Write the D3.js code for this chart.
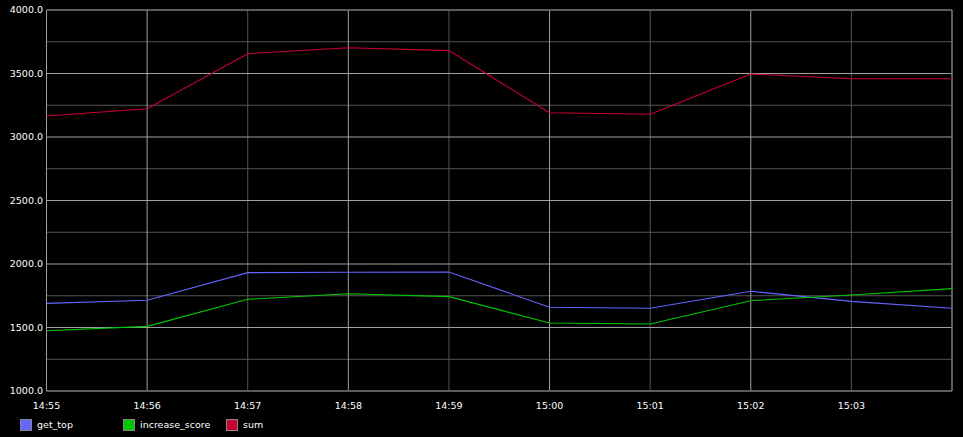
<!DOCTYPE html>
<html><head><meta charset="utf-8">
<script src="https://cdn.jsdelivr.net/npm/d3@7"></script>
<style>html,body{margin:0;padding:0;background:#000;}svg{display:block;}</style>
</head><body>
<svg id="chart" width="963" height="437"></svg>
<script>
const times = ["14:55","14:56","14:57","14:58","14:59","15:00","15:01","15:02","15:03","15:04"];
const getTop = [1690,1714,1932,1935,1937,1659,1651,1785,1706,1651];
const increaseScore = [1475,1509,1722,1766,1743,1535,1528,1711,1756,1806];
const sumVals = [3165,3223,3656,3703,3680,3191,3179,3496,3459,3459];
const seriesNames = ["get_top","increase_score","sum"];
const seriesColors = ["#6464ff","#00c800","#c80032"];
const yTicks = [1000,1500,2000,2500,3000,3500,4000];
const yMinor = [1250,1750,2250,2750,3250,3750];
const xTickLabels = ["14:55","14:56","14:57","14:58","14:59","15:00","15:01","15:02","15:03"];
const xMajor = ["14:56","14:58","15:00","15:02"];

const parse = d3.timeParse("%H:%M");
const dates = times.map(parse);
const svg = d3.select("#chart");
const W = 963, H = 437;
svg.append("rect").attr("width", W).attr("height", H).attr("fill", "#000");

const L = 46.5, R = 952, T = 10, B = 391;
const x = d3.scaleTime().domain([dates[0], dates[dates.length-1]]).range([L, R]);
const y = d3.scaleLinear().domain([1000, 4000]).range([B, T]);

const g = svg.append("g");
// minor horizontal grid
g.selectAll(".hmin").data(yMinor).join("line")
  .attr("x1", L).attr("x2", R).attr("y1", d => y(d)).attr("y2", d => y(d))
  .attr("stroke", "#555").attr("stroke-width", 1);
// minor vertical grid
const xMinor = xTickLabels.filter(t => !xMajor.includes(t)).concat(["15:04"]);
g.selectAll(".vmin").data(xMinor.map(parse)).join("line")
  .attr("x1", d => x(d)).attr("x2", d => x(d)).attr("y1", T).attr("y2", B)
  .attr("stroke", "#555").attr("stroke-width", 1);
// major horizontal grid
g.selectAll(".hmaj").data(yTicks).join("line")
  .attr("x1", L).attr("x2", R).attr("y1", d => y(d)).attr("y2", d => y(d))
  .attr("stroke", "#a0a0a0").attr("stroke-width", 1);
// major vertical grid
g.selectAll(".vmaj").data(xMajor.map(parse)).join("line")
  .attr("x1", d => x(d)).attr("x2", d => x(d)).attr("y1", T).attr("y2", B)
  .attr("stroke", "#a0a0a0").attr("stroke-width", 1);
// axes borders
g.append("line").attr("x1", L).attr("x2", L).attr("y1", T).attr("y2", B).attr("stroke", "#a0a0a0");
g.append("line").attr("x1", L).attr("x2", R).attr("y1", B).attr("y2", B).attr("stroke", "#606060").attr("stroke-width", 1.5);
g.append("line").attr("x1", L).attr("x2", R).attr("y1", T).attr("y2", T).attr("stroke", "#606060").attr("stroke-width", 1.5);
g.append("line").attr("x1", R).attr("x2", R).attr("y1", T).attr("y2", B).attr("stroke", "#707070").attr("stroke-width", 1.5);

// y labels
const font = "'DejaVu Sans', sans-serif";
svg.selectAll(".ylab").data(yTicks).join("text")
  .attr("x", 43).attr("y", d => y(d)).attr("dy", "0.35em")
  .attr("text-anchor", "end").attr("fill", "#fff")
  .style("font-family", font).style("font-size", "9.5px")
  .text(d => d3.format(".1f")(d));
// x labels
svg.selectAll(".xlab").data(xTickLabels).join("text")
  .attr("x", d => x(parse(d))).attr("y", 409)
  .attr("text-anchor", "middle").attr("fill", "#fff")
  .style("font-family", font).style("font-size", "9.5px")
  .text(d => d);

// series
const allSeries = [getTop, increaseScore, sumVals];
const line = d3.line().x((d, i) => x(dates[i])).y(d => y(d));
allSeries.forEach((vals, k) => {
  svg.append("path").datum(vals).attr("d", line)
    .attr("fill", "none").attr("stroke", seriesColors[k]).attr("stroke-width", 1.1);
});

// legend
const lg = svg.append("g");
seriesNames.forEach((name, k) => {
  const lx = 20 + k * 103;
  lg.append("rect").attr("x", lx + 0.5).attr("y", 419.5).attr("width", 11).attr("height", 11)
    .attr("fill", seriesColors[k]).attr("stroke", "#888").attr("stroke-width", 1);
  lg.append("text").attr("x", lx + 17).attr("y", 428).attr("fill", "#fff")
    .style("font-family", font).style("font-size", "9.5px").text(name);
});
</script>
</body></html>
